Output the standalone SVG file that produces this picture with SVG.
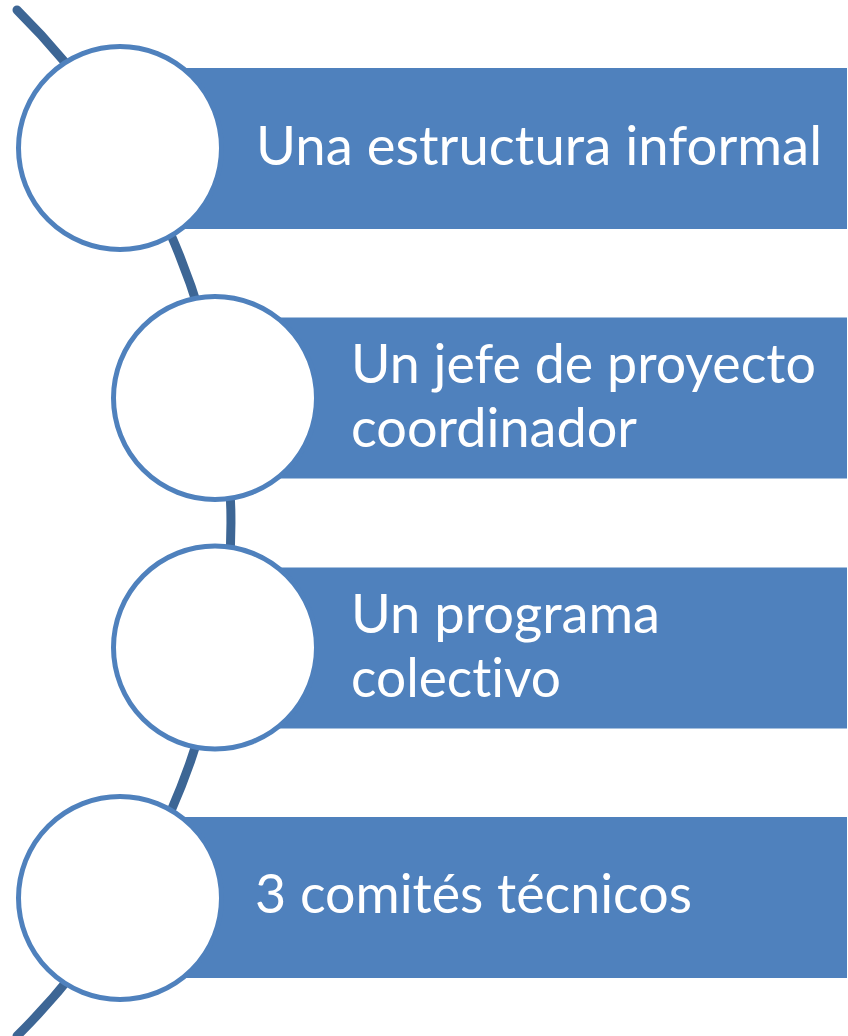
<svg xmlns="http://www.w3.org/2000/svg" width="848" height="1036" viewBox="0 0 848 1036">
<style>
.bar{fill:#4F81BD}
.node{fill:#FFFFFF;stroke:#4F81BD;stroke-width:5}
.lbl{fill:#FFFFFF;font-family:Lato,"Open Sans","Liberation Sans",sans-serif;font-size:54px;font-variant-ligatures:none;font-feature-settings:"liga" 0,"clig" 0}
.arc{fill:none;stroke:#3D6695;stroke-width:9;stroke-linecap:round}
</style>
<rect width="848" height="1036" fill="#FFFFFF"/>
<g id="connectors">
<path class="arc" d="M17,10 A722,722 0 0 1 17,1036"/>
</g>
<g id="node1">
<rect class="bar" x="120" y="68" width="727" height="161"/>
<circle class="node" cx="120" cy="148" r="101.5"/>
<text class="lbl" x="256" y="165" textLength="566" lengthAdjust="spacingAndGlyphs">Una estructura informal</text>
</g>
<g id="node2">
<rect class="bar" x="215" y="317.5" width="632" height="161"/>
<circle class="node" cx="215" cy="398" r="101.5"/>
<text class="lbl" x="351" y="383.3" textLength="465" lengthAdjust="spacingAndGlyphs">Un jefe de proyecto</text>
<text class="lbl" x="351" y="446.7" textLength="286" lengthAdjust="spacingAndGlyphs">coordinador</text>
</g>
<g id="node3">
<rect class="bar" x="215" y="567.5" width="632" height="161"/>
<circle class="node" cx="215" cy="647.5" r="101.5"/>
<text class="lbl" x="351" y="633.3" textLength="309" lengthAdjust="spacingAndGlyphs">Un programa</text>
<text class="lbl" x="351" y="696.7" textLength="210" lengthAdjust="spacingAndGlyphs">colectivo</text>
</g>
<g id="node4">
<rect class="bar" x="120" y="817" width="727" height="161"/>
<circle class="node" cx="120" cy="898" r="101.5"/>
<text class="lbl" x="255" y="913.3" textLength="437" lengthAdjust="spacingAndGlyphs">3 comités técnicos</text>
</g>
</svg>
